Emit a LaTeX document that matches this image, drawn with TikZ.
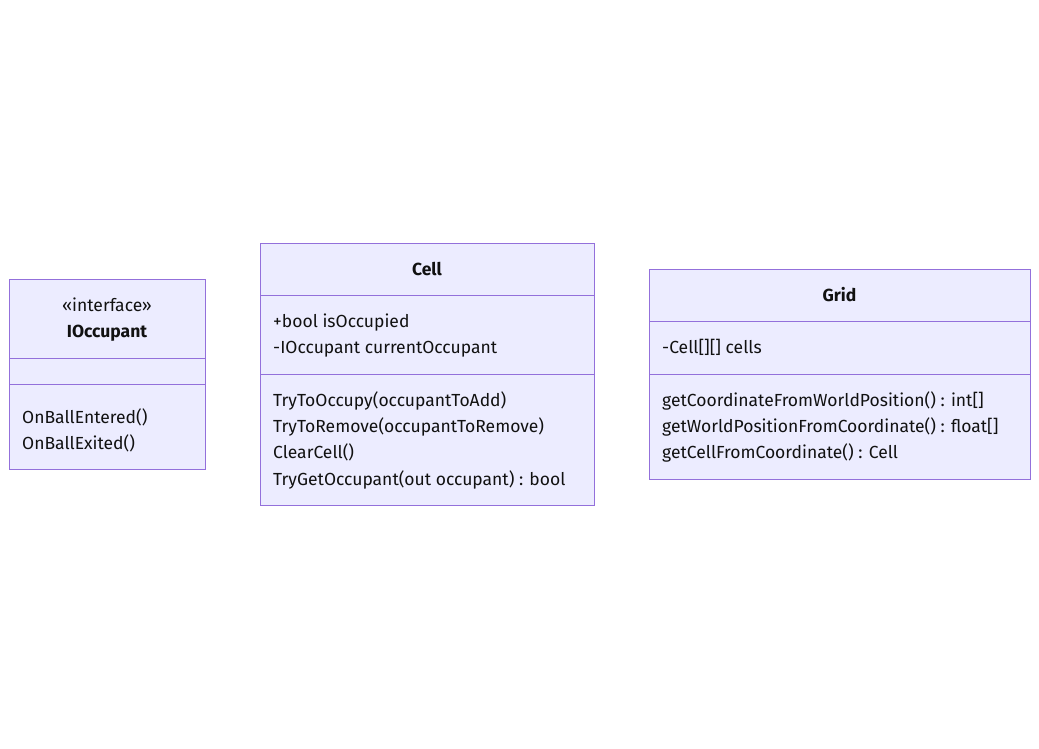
\documentclass[tikz,border=0pt]{standalone}
\usepackage{fontspec}
\setmainfont{Fira Sans}
\definecolor{boxfill}{HTML}{ECECFF}
\definecolor{boxline}{HTML}{9370DB}
\definecolor{txt}{HTML}{111111}
\begin{document}
\begin{tikzpicture}[x=1pt,y=-1pt,
  box/.style={draw=boxline,fill=boxfill,line width=1pt},
  sep/.style={draw=boxline,line width=1pt},
  lbl/.style={anchor=base west,inner sep=0pt,font=\fontsize{17.5}{20}\selectfont,text=txt},
  ttl/.style={anchor=base,inner sep=0pt,font=\fontsize{17.5}{20}\selectfont\bfseries,text=txt},
  ster/.style={anchor=base,inner sep=0pt,font=\fontsize{17.5}{20}\selectfont,text=txt}]
\useasboundingbox (0,0) rectangle (1039,749);
\fill[white] (0,0) rectangle (1039,749);
% IOccupant
\draw[box] (9,279) rectangle (205,469);
\draw[sep] (9,358) -- (205,358);
\draw[sep] (9,384) -- (205,384);
\node[ster] (io-st) at (107,311) {«interface»};
\node[ttl] (io-t) at (107,337) {IOccupant};
\node[lbl] (io-m1) at (22,423) {OnBallEntered()};
\node[lbl] (io-m2) at (22,449) {OnBallExited()};
% Cell
\draw[box] (260,243) rectangle (594,505);
\draw[sep] (260,295) -- (594,295);
\draw[sep] (260,374) -- (594,374);
\node[ttl] (c-t) at (427,275) {Cell};
\node[lbl] (c-a1) at (273,327) {+bool isOccupied};
\node[lbl] (c-a2) at (273,353) {-IOccupant currentOccupant};
\node[lbl] (c-m1) at (273,406) {TryToOccupy(occupantToAdd)};
\node[lbl] (c-m2) at (273,432) {TryToRemove(occupantToRemove)};
\node[lbl] (c-m3) at (273,458) {ClearCell()};
\node[lbl] (c-m4) at (273,485) {TryGetOccupant(out occupant) : bool};
% Grid
\draw[box] (649,269) rectangle (1030,479);
\draw[sep] (649,321) -- (1030,321);
\draw[sep] (649,374) -- (1030,374);
\node[ttl] (g-t) at (839.5,301) {Grid};
\node[lbl] (g-a1) at (662,353) {-Cell[][] cells};
\node[lbl] (g-m1) at (662,406) {getCoordinateFromWorldPosition() : int[]};
\node[lbl] (g-m2) at (662,432) {getWorldPositionFromCoordinate() : float[]};
\node[lbl] (g-m3) at (662,458) {getCellFromCoordinate() : Cell};
\end{tikzpicture}
\end{document}
